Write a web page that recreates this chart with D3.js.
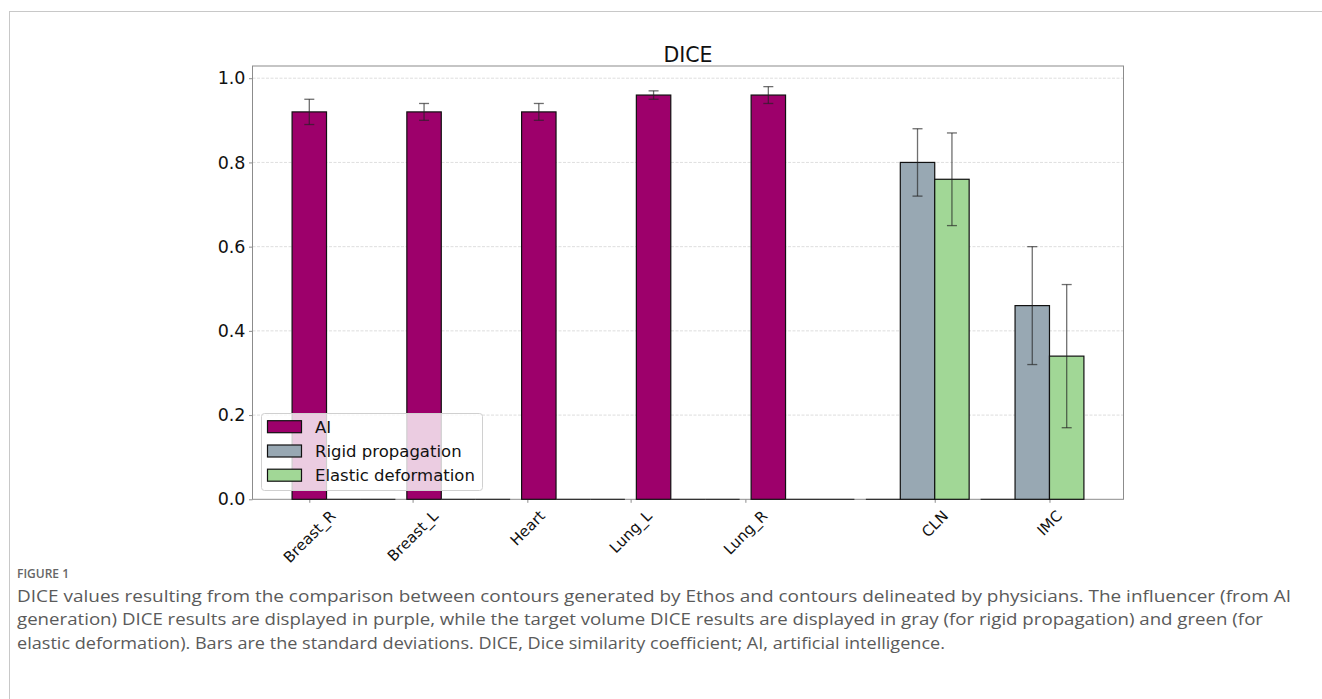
<!DOCTYPE html>
<html>
<head>
<meta charset="utf-8">
<script src="https://cdn.jsdelivr.net/npm/d3@7"></script>
<style>
  html, body { margin: 0; padding: 0; background: #fff; }
  svg { display: block; }
</style>
</head>
<body>
<svg id="chart" width="1322" height="699"></svg>
<script>
// ---------------- data ----------------
const categories   = ["Breast_R", "Breast_L", "Heart", "Lung_L", "Lung_R", "CLN", "IMC"];
const tickPositions = [0, 0.9, 1.9, 2.8, 3.8, 5.45, 6.45];
const aiMean       = [0.92, 0.92, 0.92, 0.96, 0.96, 0, 0];
const aiStd        = [0.03, 0.02, 0.02, 0.01, 0.02, 0, 0];
const rigidMean    = [0, 0, 0, 0, 0, 0.80, 0.46];
const rigidStd     = [0, 0, 0, 0, 0, 0.08, 0.14];
const elasticMean  = [0, 0, 0, 0, 0, 0.76, 0.34];
const elasticStd   = [0, 0, 0, 0, 0, 0.11, 0.17];
const seriesNames  = ["AI", "Rigid propagation", "Elastic deformation"];
const yTicks       = [0.0, 0.2, 0.4, 0.6, 0.8, 1.0];
const chartTitle   = "DICE";
const figureLabel  = "FIGURE 1";
const captionLines = [
  "DICE values resulting from the comparison between contours generated by Ethos and contours delineated by physicians. The influencer (from AI",
  "generation) DICE results are displayed in purple, while the target volume DICE results are displayed in gray (for rigid propagation) and green (for",
  "elastic deformation). Bars are the standard deviations. DICE, Dice similarity coefficient; AI, artificial intelligence."
];

(function () {
// ---------------- styles ----------------
const colors = ["#9d006b", "#98a8b3", "#a1d796"];
const barWidth = 0.3;
const offsets = [0, 0.3, 0.6];

const svg = d3.select("#chart");

// page frame
svg.append("line").attr("x1", 9).attr("x2", 1322).attr("y1", 11.5).attr("y2", 11.5)
  .attr("stroke", "#c8c8c8").attr("stroke-width", 1);
svg.append("line").attr("x1", 9.5).attr("x2", 9.5).attr("y1", 11).attr("y2", 699)
  .attr("stroke", "#c8c8c8").attr("stroke-width", 1);

const pL = 252.5, pR = 1123.5, pT = 66, pB = 499.3;
const x = d3.scaleLinear().domain([-0.495, 7.095]).range([pL, pR]);
const y = d3.scaleLinear().domain([0, 1.029]).range([pB, pT]);

// grid
svg.append("g").selectAll("line").data(yTicks.filter(d => d > 0)).join("line")
  .attr("x1", pL).attr("x2", pR)
  .attr("y1", d => y(d)).attr("y2", d => y(d))
  .attr("stroke", "#d6d6d6").attr("stroke-width", 0.8).attr("stroke-dasharray", "3,1.5");

// y axis
const yAxis = d3.axisLeft(y).tickValues(yTicks).tickFormat(d3.format(".1f")).tickSize(3.5).tickPadding(3.5);
const gy = svg.append("g").attr("transform", `translate(${pL},0)`).call(yAxis);
gy.select(".domain").remove();
gy.selectAll(".tick line").attr("stroke", "#8c8c8c");
gy.selectAll(".tick text").attr("font-family", "DejaVu Sans").attr("font-size", 17.5).attr("fill", "#111");

// x axis
const xAxis = d3.axisBottom(x).tickValues(tickPositions).tickFormat((d, i) => categories[i]).tickSize(3.5);
const gx = svg.append("g").attr("transform", `translate(0,${pB})`).call(xAxis);
gx.select(".domain").remove();
gx.selectAll(".tick line").attr("stroke", "#8c8c8c");
gx.selectAll(".tick text").remove();

// spines
svg.append("rect").attr("x", pL).attr("y", pT).attr("width", pR - pL).attr("height", pB - pT)
  .attr("fill", "none").attr("stroke", "#8c8c8c").attr("stroke-width", 1);

// bars
const series = [
  { mean: aiMean, std: aiStd },
  { mean: rigidMean, std: rigidStd },
  { mean: elasticMean, std: elasticStd }
];
series.forEach((s, si) => {
  const data = categories.map((c, i) => ({ i, v: s.mean[i], e: s.std[i] }));
  const g = svg.append("g");
  const pos = data.filter(d => d.v > 0);
  const zero = data.filter(d => d.v === 0);
  g.selectAll("rect").data(pos).join("rect")
    .attr("x", d => x(d.i + offsets[si] - barWidth / 2))
    .attr("width", d => x(d.i + offsets[si] + barWidth / 2) - x(d.i + offsets[si] - barWidth / 2))
    .attr("y", d => y(d.v))
    .attr("height", d => y(0) - y(d.v))
    .attr("fill", colors[si]).attr("stroke", "#111").attr("stroke-width", 1.2);
  g.selectAll("line.zero").data(zero).join("line").attr("class", "zero")
    .attr("x1", d => x(d.i + offsets[si] - barWidth / 2))
    .attr("x2", d => x(d.i + offsets[si] + barWidth / 2))
    .attr("y1", y(0)).attr("y2", y(0))
    .attr("stroke", "#333").attr("stroke-width", 1.2);
  // error bars
  const eb = g.selectAll("g.err").data(pos.filter(d => d.e > 0)).join("g").attr("class", "err")
    .attr("stroke", "#222").attr("stroke-opacity", 0.65).attr("stroke-width", 1.3);
  eb.append("line")
    .attr("x1", d => x(d.i + offsets[si])).attr("x2", d => x(d.i + offsets[si]))
    .attr("y1", d => y(d.v - d.e)).attr("y2", d => y(d.v + d.e));
  [1, -1].forEach(sg => {
    eb.append("line")
      .attr("x1", d => x(d.i + offsets[si]) - 5).attr("x2", d => x(d.i + offsets[si]) + 5)
      .attr("y1", d => y(d.v + sg * d.e)).attr("y2", d => y(d.v + sg * d.e));
  });
});

// x tick labels (rotated 45°, centered on tick)
const fs = 15;
categories.forEach((c, i) => {
  const t = svg.append("text").text(c)
    .attr("font-family", "DejaVu Sans").attr("font-size", fs).attr("fill", "#111")
    .attr("text-anchor", "middle");
  const L = t.node().getComputedTextLength();
  const cx = x(tickPositions[i]);
  const cy = 507 + (L + 1.15 * fs) * Math.SQRT1_2 / 2;
  t.attr("x", cx).attr("y", cy).attr("dy", "0.36em")
    .attr("transform", `rotate(-45,${cx},${cy})`);
});

// title
svg.append("text").text(chartTitle)
  .attr("x", (pL + pR) / 2).attr("y", 61.5)
  .attr("text-anchor", "middle").attr("font-family", "DejaVu Sans").attr("font-size", 20.5).attr("fill", "#111");

// legend
const lg = svg.append("g");
lg.append("rect").attr("x", 261.5).attr("y", 413.5).attr("width", 221).attr("height", 77).attr("rx", 3)
  .attr("fill", "#fff").attr("fill-opacity", 0.8).attr("stroke", "#d0d0d0").attr("stroke-width", 1);
const rowY = [426.7, 451, 475.2];
seriesNames.forEach((n, i) => {
  lg.append("rect").attr("x", 267.5).attr("y", rowY[i] - 6).attr("width", 34).attr("height", 12)
    .attr("fill", colors[i]).attr("stroke", "#111").attr("stroke-width", 1.2);
  lg.append("text").text(n).attr("x", 315).attr("y", rowY[i]).attr("dy", "0.36em")
    .attr("font-family", "DejaVu Sans").attr("font-size", 16.5).attr("fill", "#111");
});

// caption
svg.append("text").text(figureLabel).attr("x", 17).attr("y", 577.5)
  .attr("font-family", "Open Sans").attr("font-size", 12).attr("font-weight", 600).attr("fill", "#666");
const capWidths = [1274, 1246, 928];
const capY = [601.5, 625, 648.5];
captionLines.forEach((line, i) => {
  svg.append("text").text(line).attr("x", 17).attr("y", capY[i])
    .attr("font-family", "Open Sans").attr("font-size", 15.5).attr("fill", "#5a5a5a")
    .attr("textLength", capWidths[i]).attr("lengthAdjust", "spacingAndGlyphs");
});
})();
</script>
</body>
</html>
